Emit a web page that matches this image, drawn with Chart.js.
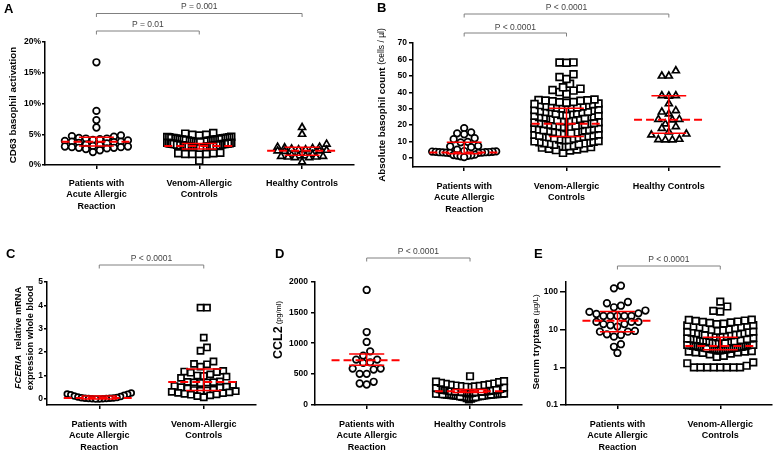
<!DOCTYPE html>
<html lang="en">
<head>
  <meta charset="UTF-8">
  <title>Basophil markers</title>
  <script src="https://cdn.jsdelivr.net/npm/chart.js"></script>
  <style>
    body {
      margin: 0;
      background: #fff;
    }
    #wrap {
      position: relative;
      width: 778px;
      height: 451px;
      overflow: hidden;
    }
    canvas {
      position: absolute;
    }
  </style>
</head>
<body>
  <div id="wrap">
    <canvas id="chartA"></canvas>
    <canvas id="chartB"></canvas>
    <canvas id="chartC"></canvas>
    <canvas id="chartD"></canvas>
    <canvas id="chartE"></canvas>
  </div>

  <script>
    const FONT = "'Liberation Sans', Arial, Helvetica, sans-serif";

    // ---- category labels ----
    const catPatients = ['Patients with', 'Acute Allergic', 'Reaction'];
    const catVenom = ['Venom-Allergic', 'Controls'];
    const catHealthy = ['Healthy Controls'];

    // ---- A: CD63 basophil activation (%) ----
    const aPatients = [16.7, 8.8, 7.3, 6.1, 4.8, 4.7, 4.6, 4.4, 4.3, 4.3, 4.2, 4.1, 4.0, 3.9, 3.8, 3.8,
      3.7, 3.6, 3.5, 3.3, 3.2, 3.1, 3.0, 3.0, 2.9, 2.9, 2.8, 2.8, 2.7, 2.6, 2.4, 2.1];
    const aVenom = [5.2, 4.9, 4.8, 4.9, 5.1,
      4.6, 4.55, 4.5, 4.5, 4.45, 4.4, 4.4, 4.4, 4.35, 4.3, 4.3, 4.25, 4.2, 4.2, 4.2, 4.15, 4.1, 4.1,
      4.05, 4.0, 4.0, 4.0, 3.95, 3.9, 3.9, 3.85, 3.8, 3.8, 3.8, 3.75, 3.7, 3.7,
      3.6, 3.6, 3.55, 3.55, 3.5, 3.5, 3.5, 3.45, 3.4, 3.4, 3.4, 3.4, 3.35, 3.3, 3.3, 3.3, 3.25, 3.2,
      3.2, 3.2, 3.2, 3.15, 3.1, 3.1, 3.1, 3.05, 3.0, 3.0, 3.0, 3.0, 2.95, 2.9, 2.9, 2.85, 2.8, 2.8,
      2.8, 2.75, 2.7, 2.7,
      2.0, 1.9, 1.9, 1.8, 1.8, 1.8, 1.7, 0.7];
    const aHealthy = [6.1, 5.0, 3.4, 2.9, 2.9, 2.8, 2.7, 2.6, 2.5, 2.5, 2.4, 2.3, 2.3, 2.2,
      1.7, 1.6, 1.5, 1.5, 1.4, 1.4, 1.3, 1.3, 1.2, 1.2, 0.5];
    const aMedian = [3.8, 3.1, 2.3];
    const aLow = [3.1, 2.6, 1.6];
    const aHigh = [4.5, 3.5, 2.9];
    const aTicks = [0, 5, 10, 15, 20];
    const aTickLabels = ['0%', '5%', '10%', '15%', '20%'];
    const aP = ['P = 0.001', 'P = 0.01'];

    // ---- B: absolute basophil count (cells / µl) ----
    const bPatients = [18.2, 15.6, 15.0, 14.4, 12.0, 11.4, 9.8, 9.5, 7.3, 7.0, 6.6, 5.0, 4.2, 4.0, 3.9,
      3.8, 3.7, 3.6, 3.5, 3.5, 3.4, 3.3, 3.2, 3.1, 3.0, 2.0, 1.8, 1.6, 1.5, 1.3, 1.0, 0.5];
    const bVenom = [3.1, 4.6, 5.2, 5.9, 6.3, 6.8, 7.1, 7.4, 7.2, 6.6, 5.6, 4.8,
      8.1, 8.6, 9.0, 9.3, 9.9, 10.4, 10.8, 11.2, 9.6, 8.9, 10.1, 11.0, 8.4,
      11.8, 12.3, 12.9, 13.2, 13.7, 14.1, 14.6, 13.0, 12.6, 14.9, 13.5, 12.1, 14.3,
      15.3, 15.8, 16.2, 16.7, 17.1, 17.6, 18.0, 18.3, 16.4, 15.6, 17.9, 17.3, 16.9, 15.1,
      18.9, 19.4, 19.8, 20.3, 20.7, 21.1, 21.5, 21.8, 19.1, 20.0, 20.9, 21.3, 19.6, 20.5,
      22.3, 22.8, 23.2, 23.7, 24.1, 24.6, 24.9, 25.2, 22.5, 23.4, 24.3, 25.0, 23.0,
      25.7, 26.2, 26.6, 27.1, 27.5, 28.0, 28.4, 28.7, 26.0, 26.9, 27.8, 25.9, 28.2,
      29.2, 29.7, 30.1, 30.6, 31.0, 31.5, 31.9, 32.2, 29.5, 30.4, 31.3, 30.8,
      32.7, 33.2, 33.6, 34.1, 34.5, 35.0, 35.3, 35.6, 33.9, 34.8, 35.1, 32.9,
      38.9, 40.1, 41.0, 41.4, 42.2, 43.0, 45.2, 48.1, 49.3, 51.0, 58.1, 58.0, 58.2];
    const bHealthy = [53.1, 49.9, 49.9, 37.9, 37.7, 37.9, 33.0, 28.8, 28.0, 26.8, 23.5, 23.5, 23.2,
      20.7, 19.1, 18.0, 15.8, 14.6, 14.0, 11.4, 11.0, 11.0, 11.2];
    const bMedian = [3.4, 20.8, 23.3];
    const bLow = [2.6, 13.0, 15.0];
    const bHigh = [9.6, 30.2, 37.9];
    const bTicks = [0, 10, 20, 30, 40, 50, 60, 70];
    const bP = ['P < 0.0001', 'P < 0.0001'];

    // ---- C: FCERIA relative mRNA expression ----
    const cPatients = [0.25, 0.21, 0.2, 0.18, 0.16, 0.12, 0.1, 0.08, 0.06, 0.05, 0.04, 0.03, 0.03,
      0.02, 0.02, 0.01, 0.01, 0.0, 0.0];
    const cVenom = [3.9, 3.9, 2.62, 2.2, 2.06, 1.6, 1.5, 1.48, 1.38, 1.2, 1.17, 1.15, 1.12, 1.05, 1.0,
      0.98, 0.95, 0.9, 0.75, 0.73, 0.72, 0.71, 0.7, 0.68, 0.6, 0.55, 0.52, 0.5, 0.48, 0.45, 0.4,
      0.38, 0.36, 0.35, 0.33, 0.3, 0.28, 0.26, 0.25, 0.22, 0.2, 0.18, 0.15, 0.12, 0.07];
    const cMedian = [0.04, 0.72];
    const cLow = [0.0, 0.36];
    const cHigh = [0.12, 1.28];
    const cTicks = [0, 1, 2, 3, 4, 5];
    const cP = ['P < 0.0001'];

    // ---- D: CCL2 (pg/ml) ----
    const dPatients = [1870, 1182, 1020, 867, 797, 732, 678, 688, 732, 585, 499, 499, 569, 585, 369, 325, 341];
    const dHealthy = [82, 95, 104, 112, 118, 124, 129, 133, 137, 141, 145, 148, 151, 154, 157, 160,
      162, 164, 166, 168, 170, 171, 172, 173, 174, 175, 150, 140, 130, 120, 158, 166,
      181, 185, 188, 192, 195, 198, 200, 203, 205, 207, 210, 212, 214, 216, 218, 220, 222, 225,
      228, 231, 234, 238, 242, 246, 250, 255, 260, 265, 270, 276, 199, 209, 219, 229, 240, 204, 213,
      282, 288, 293, 298, 303, 309, 314, 320, 327, 335, 341, 352, 363, 372, 380, 460];
    const dMedian = [720, 215];
    const dLow = [640, 195];
    const dHigh = [824, 245];
    const dTicks = [0, 500, 1000, 1500, 2000];
    const dP = ['P < 0.0001'];

    // ---- E: serum tryptase (µg/L), log axis ----
    const ePatients = [146, 124, 54, 50, 43, 39, 32, 29.5, 27, 26, 23, 23, 23, 23, 23,
      16, 16, 16, 14, 14, 13, 12, 9.2, 8.8, 8.8, 7.5, 7.2, 6.5, 4.1, 3.5, 2.4];
    const eVenom = [1.0, 1.0, 1.0, 1.0, 1.0, 1.0, 1.0, 1.0, 1.1, 1.28, 1.35,
      1.9, 2.0, 2.2, 2.3, 2.4, 2.5, 2.5, 2.6, 2.6, 2.7,
      2.8, 2.8, 2.9, 2.9, 2.9, 3.0, 3.0, 3.0, 3.1, 3.1, 3.1, 3.2, 3.2, 3.3, 3.3, 3.3, 3.4, 3.4,
      3.4, 3.5, 3.5, 3.5, 3.6, 3.6, 3.7, 3.7, 3.7, 3.8, 3.8, 3.9, 3.9, 3.9, 3.95, 3.95, 3.2,
      4.2, 4.3, 4.3, 4.5, 4.6, 4.6, 4.8, 4.9, 5.1, 5.1, 5.2, 5.4, 5.4, 5.5, 5.7, 5.8, 5.8, 6.0,
      4.4, 4.9, 5.3, 5.6,
      6.2, 6.4, 6.5, 6.7, 6.8, 7.0, 7.3, 7.4, 7.6, 7.9, 8.0, 8.3, 8.4, 8.7, 8.8, 7.1,
      9.2, 9.5, 9.9, 10.1, 10.6, 10.9, 11.4, 11.7, 12.1, 12.6, 12.9, 13.2,
      14.0, 14.4, 15.1, 15.5, 16.0, 16.4, 17.1, 17.4, 18.0, 18.3,
      30, 31.5, 41, 55];
    const eMedian = [17.2, 3.7];
    const eLow = [8.8, 2.9];
    const eHigh = [30, 6.3];
    const eTicks = [0.1, 1, 10, 100];
    const eTickLabels = ['0.1', '1', '10', '100'];
    const eP = ['P < 0.0001'];

    // spread points of similar value sideways; lowest value of a row sits in the middle
    function beeswarm(values, toPx, binH, step, maxW) {
      const order = values.map((v, i) => i).sort((a, b) => values[a] - values[b]);
      const off = new Array(values.length).fill(0);
      let row = [];
      let start = null;
      const flush = () => {
        const n = row.length;
        const s = n > 1 ? Math.min(step, maxW / (n - 1)) : 0;
        const slots = [];
        for (let k = 0; k < n; k++) slots.push((k - (n - 1) / 2) * s);
        slots.sort((a, b) => Math.abs(a) - Math.abs(b) || a - b);
        row.forEach((i, k) => { off[i] = slots[k]; });
        row = [];
      };
      order.forEach(i => {
        const p = toPx(values[i]);
        if (start === null || start - p >= binH) { flush(); start = p; }
        row.push(i);
      });
      flush();
      return off;
    }

    function drawRotated(ctx, x, yc, segs) {
      ctx.save();
      ctx.translate(x, yc);
      ctx.rotate(-Math.PI / 2);
      let total = 0;
      segs.forEach(s => { ctx.font = s.f; s.w = ctx.measureText(s.t).width; total += s.w; });
      let cur = -total / 2;
      ctx.textBaseline = 'middle';
      ctx.textAlign = 'left';
      ctx.fillStyle = '#000';
      segs.forEach(s => { ctx.font = s.f; ctx.fillText(s.t, cur, 0); cur += s.w; });
      ctx.restore();
    }

    function overlay(p) {
      return {
        id: 'overlay',
        afterDatasetsDraw(chart) {
          const ctx = chart.ctx, xs = chart.scales.x, ys = chart.scales.y;
          const catW = xs.getPixelForValue(2) - xs.getPixelForValue(1);
          ctx.save();
          ctx.strokeStyle = '#ff0000';
          p.median.forEach((m, i) => {
            const cx = xs.getPixelForValue(i + 1);
            const yl = ys.getPixelForValue(p.low[i]);
            const yh = ys.getPixelForValue(p.high[i]);
            const ym = ys.getPixelForValue(m);
            ctx.setLineDash([]);
            ctx.lineWidth = 1.5;
            ctx.beginPath();
            ctx.moveTo(cx - catW * 0.17, yl); ctx.lineTo(cx + catW * 0.17, yl);
            ctx.moveTo(cx - catW * 0.17, yh); ctx.lineTo(cx + catW * 0.17, yh);
            ctx.moveTo(cx, yl); ctx.lineTo(cx, yh);
            ctx.stroke();
            ctx.setLineDash([8, 4]);
            ctx.lineWidth = 2;
            ctx.beginPath();
            ctx.moveTo(cx - catW * 0.34, ym); ctx.lineTo(cx + catW * 0.34, ym);
            ctx.stroke();
          });
          ctx.restore();
        },
        afterDraw(chart) {
          const ctx = chart.ctx, xs = chart.scales.x, area = chart.chartArea;
          ctx.save();
          // significance brackets
          p.brackets.forEach(b => {
            const x1 = xs.getPixelForValue(b.from), x2 = xs.getPixelForValue(b.to);
            ctx.strokeStyle = '#808080';
            ctx.lineWidth = 1;
            ctx.beginPath();
            ctx.moveTo(x1, b.y + 3.5); ctx.lineTo(x1, b.y);
            ctx.lineTo(x2, b.y); ctx.lineTo(x2, b.y + 3.5);
            ctx.stroke();
            ctx.fillStyle = '#444';
            ctx.font = '8.5px ' + FONT;
            ctx.textAlign = 'center';
            ctx.textBaseline = 'middle';
            ctx.fillText(b.text, (x1 + x2) / 2, b.ty);
          });
          // panel letter
          ctx.fillStyle = '#000';
          ctx.font = 'bold 13px ' + FONT;
          ctx.textAlign = 'left';
          ctx.textBaseline = 'middle';
          ctx.fillText(p.letter, p.letterX, p.letterY);
          ctx.restore();
          // axis title
          const yc = p.titleY != null ? p.titleY : (area.top + area.bottom) / 2;
          p.title.forEach((line, i) => drawRotated(ctx, p.titleX[i], yc, line.map(s => ({ ...s }))));
        }
      };
    }

    function makePanel(p) {
      const cv = document.getElementById(p.id);
      const [L, T, W, H] = p.box;
      cv.style.left = L + 'px';
      cv.style.top = T + 'px';
      cv.width = W;
      cv.height = H;
      cv.style.width = W + 'px';
      cv.style.height = H + 'px';
      const cats = p.cats;
      const tickFont = { family: FONT, size: 8.5, weight: 'bold' };

      const datasets = p.groups.map((g, gi) => ({
        data: g.values.map(v => ({ x: gi + 1, y: v })),
        pointStyle: g.style,
        pointRadius: g.r,
        pointBorderWidth: 1.7,
        pointBorderColor: '#000',
        pointBackgroundColor: '#fff',
        borderColor: '#000',
        backgroundColor: '#fff',
        showLine: false,
        clip: false
      }));

      const chart = new Chart(cv, {
        type: 'scatter',
        data: { datasets },
        options: {
          responsive: false,
          animation: false,
          events: [],
          layout: { padding: { left: 0, top: p.padTop, right: p.padRight, bottom: 0 } },
          plugins: { legend: { display: false }, tooltip: { enabled: false } },
          scales: {
            x: {
              type: 'linear',
              min: 0.5,
              max: cats.length + 0.5,
              afterBuildTicks: s => { s.ticks = cats.map((c, i) => ({ value: i + 1 })); },
              afterFit: s => { s.height = p.xh; },
              ticks: {
                callback: v => cats[Math.round(v) - 1],
                autoSkip: false,
                maxRotation: 0,
                minRotation: 0,
                padding: p.xPad,
                color: '#000',
                font: { family: FONT, size: 9, weight: 'bold', lineHeight: 1.25 }
              },
              grid: { drawOnChartArea: false, drawTicks: true, tickLength: 4, color: '#000', lineWidth: 1.5 },
              border: { display: true, color: '#000', width: 1.5 }
            },
            y: {
              type: p.yType,
              min: p.yMin,
              max: p.yMax,
              afterBuildTicks: s => { s.ticks = p.yTicks.map(v => ({ value: v })); },
              afterFit: s => { s.width = p.yw; },
              ticks: {
                callback: v => p.yTickLabels[p.yTicks.indexOf(v)],
                padding: p.yPad,
                color: '#000',
                font: tickFont
              },
              grid: { drawOnChartArea: false, drawTicks: true, tickLength: p.yTickLen, color: '#000', lineWidth: 1.5 },
              border: { display: true, color: '#000', width: 1.5 }
            }
          }
        },
        plugins: [overlay(p)]
      });

      const xs = chart.scales.x, ys = chart.scales.y;
      const catW = xs.getPixelForValue(2) - xs.getPixelForValue(1);
      p.groups.forEach((g, gi) => {
        const off = beeswarm(g.values, v => ys.getPixelForValue(v), p.binH, p.step, p.maxW);
        chart.data.datasets[gi].data = g.values.map((v, i) => ({ x: gi + 1 + off[i] / catW, y: v }));
      });
      chart.update('none');
      return chart;
    }

    const bold = s => 'bold ' + s + 'px ' + FONT;
    const plain = s => s + 'px ' + FONT;

    makePanel({
      id: 'chartA', box: [0, 0, 360, 225], yw: 45, padTop: 42, padRight: 5, xh: 60, xPad: 9,
      yType: 'linear', yMin: 0, yMax: 20, yTicks: aTicks, yTickLabels: aTickLabels, yPad: 1, yTickLen: 3,
      cats: [catPatients, catVenom, catHealthy],
      groups: [{ values: aPatients, style: 'circle', r: 3.3 }, { values: aVenom, style: 'rect', r: 4.8 },
        { values: aHealthy, style: 'triangle', r: 4 }],
      median: aMedian, low: aLow, high: aHigh,
      binH: 6, step: 7, maxW: 64,
      brackets: [{ from: 1, to: 3, y: 13.5, ty: 7, text: aP[0] }, { from: 1, to: 2, y: 31, ty: 25, text: aP[1] }],
      letter: 'A', letterX: 4, letterY: 9,
      titleX: [13], titleY: 105,
      title: [[{ t: 'CD63 basophil activation', f: bold(9.8) }]]
    });

    makePanel({
      id: 'chartB', box: [360, 0, 418, 225], yw: 53, padTop: 43, padRight: 58, xh: 58, xPad: 10,
      yType: 'linear', yMin: -5.5, yMax: 70, yTicks: bTicks, yTickLabels: bTicks.map(String), yPad: 2, yTickLen: 4,
      cats: [catPatients, catVenom, catHealthy],
      groups: [{ values: bPatients, style: 'circle', r: 3.3 }, { values: bVenom, style: 'rect', r: 4.8 },
        { values: bHealthy, style: 'triangle', r: 4 }],
      median: bMedian, low: bLow, high: bHigh,
      binH: 6, step: 7, maxW: 64,
      brackets: [{ from: 1, to: 3, y: 14, ty: 8, text: bP[0] }, { from: 1, to: 2, y: 33, ty: 27.5, text: bP[1] }],
      letter: 'B', letterX: 17, letterY: 8,
      titleX: [22], titleY: 105,
      title: [[{ t: 'Absolute basophil count ', f: bold(9.8) }, { t: '(cells / \u00b5l)', f: plain(8.5) }]]
    });

    makePanel({
      id: 'chartC', box: [0, 225, 262, 226], yw: 47, padTop: 57, padRight: 3, xh: 46, xPad: 10,
      yType: 'linear', yMin: -0.26, yMax: 5, yTicks: cTicks, yTickLabels: cTicks.map(String), yPad: 1, yTickLen: 3,
      cats: [catPatients, catVenom],
      groups: [{ values: cPatients, style: 'circle', r: 2.9 }, { values: cVenom, style: 'rect', r: 4.3 }],
      median: cMedian, low: cLow, high: cHigh,
      binH: 6.5, step: 6.5, maxW: 64,
      brackets: [{ from: 1, to: 2, y: 40, ty: 33.5, text: cP[0] }],
      letter: 'C', letterX: 6, letterY: 29,
      titleX: [18, 30], titleY: 113,
      title: [
        [{ t: 'FCERIA', f: 'italic ' + bold(9.2) }, { t: '  relative mRNA', f: bold(9.2) }],
        [{ t: 'expression whole blood', f: bold(9.2) }]
      ]
    });

    makePanel({
      id: 'chartD', box: [262, 225, 266, 226], yw: 53, padTop: 57, padRight: 3, xh: 46, xPad: 10,
      yType: 'linear', yMin: -10, yMax: 2000, yTicks: dTicks, yTickLabels: dTicks.map(String), yPad: 3, yTickLen: 4,
      cats: [catPatients, catHealthy],
      groups: [{ values: dPatients, style: 'circle', r: 3.3 }, { values: dHealthy, style: 'rect', r: 4.6 }],
      median: dMedian, low: dLow, high: dHigh,
      binH: 6, step: 7, maxW: 68,
      brackets: [{ from: 1, to: 2, y: 33, ty: 27, text: dP[0] }],
      letter: 'D', letterX: 13, letterY: 29,
      titleX: [17], titleY: 105,
      title: [[{ t: 'CCL2', f: bold(12.5) }, { t: ' (pg/ml)', f: plain(7.5) }]]
    });

    makePanel({
      id: 'chartE', box: [528, 225, 250, 226], yw: 38, padTop: 57, padRight: 2, xh: 46, xPad: 10,
      yType: 'logarithmic', yMin: 0.1, yMax: 183, yTicks: eTicks, yTickLabels: eTickLabels, yPad: 2, yTickLen: 6,
      cats: [catPatients, catVenom],
      groups: [{ values: ePatients, style: 'circle', r: 3.3 }, { values: eVenom, style: 'rect', r: 4.6 }],
      median: eMedian, low: eLow, high: eHigh,
      binH: 6, step: 7, maxW: 66,
      brackets: [{ from: 1, to: 2, y: 41, ty: 34.5, text: eP[0] }],
      letter: 'E', letterX: 6, letterY: 29,
      titleX: [8], titleY: 117,
      title: [[{ t: 'Serum tryptase ', f: bold(9.8) }, { t: '(\u00b5g/L)', f: plain(8) }]]
    });
  </script>
</body>
</html>
